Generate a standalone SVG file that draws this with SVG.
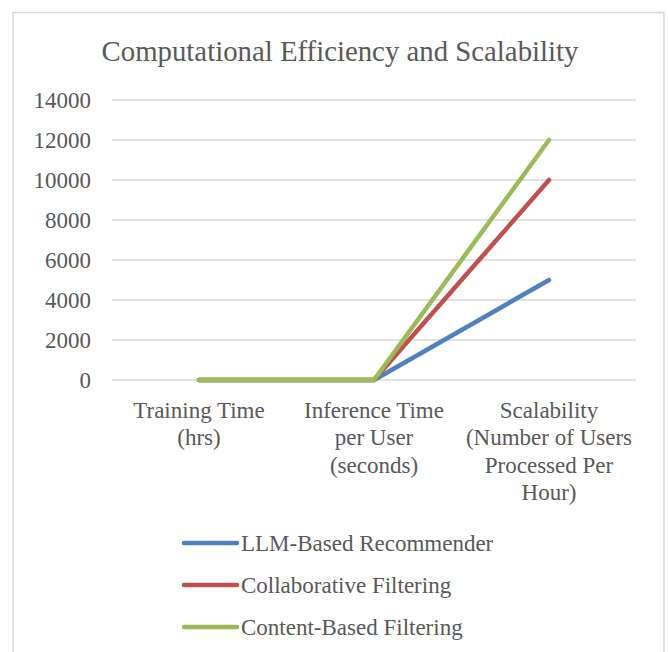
<svg xmlns="http://www.w3.org/2000/svg" width="668" height="652" viewBox="0 0 668 652">
  <defs>
    <!-- shared stroke looks for the three series -->
    <line id="legend-swatch" x1="0" y1="0" x2="53" y2="0" stroke-width="4.5" stroke-linecap="round"/>
  </defs>

  <!-- chart area -->
  <rect x="0" y="0" width="668" height="652" fill="#ffffff"/>
  <rect x="13" y="12.5" width="651" height="660" fill="#ffffff" stroke="#d9d9d9" stroke-width="1.5"/>

  <g font-family="Liberation Serif, Times New Roman, serif" fill="#595959">
    <g id="title">
      <text x="340" y="61" text-anchor="middle" font-size="28.8">Computational Efficiency and Scalability</text>
    </g>

    <!-- value axis: gridlines and labels -->
    <g id="gridlines" stroke="#d9d9d9" stroke-width="1.5">
      <line x1="112" y1="100" x2="636" y2="100"/>
      <line x1="112" y1="140" x2="636" y2="140"/>
      <line x1="112" y1="180" x2="636" y2="180"/>
      <line x1="112" y1="220" x2="636" y2="220"/>
      <line x1="112" y1="260" x2="636" y2="260"/>
      <line x1="112" y1="300" x2="636" y2="300"/>
      <line x1="112" y1="340" x2="636" y2="340"/>
      <line x1="112" y1="380" x2="636" y2="380"/>
    </g>
    <g id="value-axis" text-anchor="end" font-size="23">
      <text x="91" y="108">14000</text>
      <text x="91" y="148">12000</text>
      <text x="91" y="188">10000</text>
      <text x="91" y="228">8000</text>
      <text x="91" y="268">6000</text>
      <text x="91" y="308">4000</text>
      <text x="91" y="348">2000</text>
      <text x="91" y="388">0</text>
    </g>

    <!-- category axis labels -->
    <g id="category-axis" text-anchor="middle" font-size="23">
      <text x="199" y="418">Training Time</text>
      <text x="199" y="445">(hrs)</text>
      <text x="374" y="418">Inference Time</text>
      <text x="374" y="445">per User</text>
      <text x="374" y="473">(seconds)</text>
      <text x="549" y="418">Scalability</text>
      <text x="549" y="445">(Number of Users</text>
      <text x="549" y="473">Processed Per</text>
      <text x="549" y="500">Hour)</text>
    </g>

    <!-- data series -->
    <g id="series" fill="none" stroke-width="4.5" stroke-linecap="round" stroke-linejoin="round">
      <polyline id="llm-based" stroke="#4f81bd" points="199,380 374,380 549,280"/>
      <polyline id="collaborative" stroke="#c0504d" points="199,380 374,380 549,180"/>
      <polyline id="content-based" stroke="#9bbb59" points="199,380 374,380 549,140"/>
    </g>

    <!-- legend -->
    <g id="legend" font-size="23">
      <g id="legend-llm">
        <use href="#legend-swatch" x="184" y="543" stroke="#4f81bd"/>
        <text x="241" y="551">LLM-Based Recommender</text>
      </g>
      <g id="legend-collab">
        <use href="#legend-swatch" x="184" y="585" stroke="#c0504d"/>
        <text x="241" y="593">Collaborative Filtering</text>
      </g>
      <g id="legend-content">
        <use href="#legend-swatch" x="184" y="627" stroke="#9bbb59"/>
        <text x="241" y="635">Content-Based Filtering</text>
      </g>
    </g>
  </g>
</svg>
